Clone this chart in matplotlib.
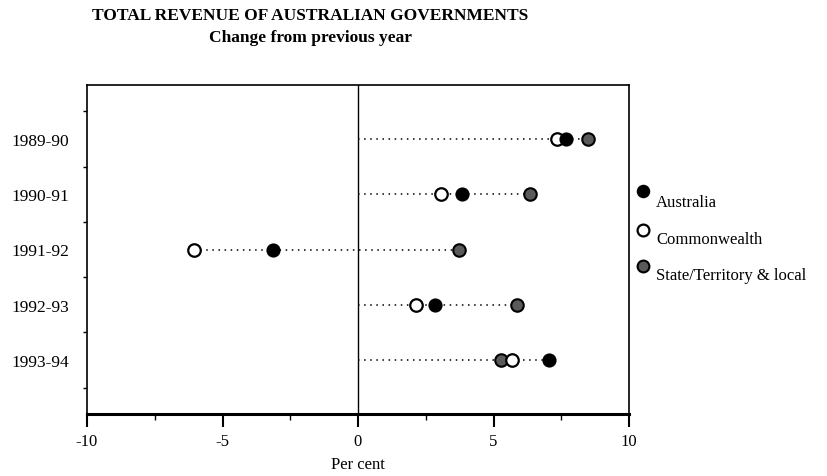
import matplotlib
matplotlib.use("Agg")
import matplotlib.pyplot as plt
from matplotlib.ticker import MultipleLocator, FixedLocator

years = ["1989-90", "1990-91", "1991-92", "1992-93", "1993-94"]
australia = [7.68, 3.84, -3.14, 2.84, 7.05]
commonwealth = [7.34, 3.06, -6.05, 2.14, 5.68]
state_local = [8.49, 6.35, 3.73, 5.87, 5.28]
series_names = ["Australia", "Commonwealth", "State/Territory & local"]

plt.rcParams["font.family"] = ["Liberation Serif", "DejaVu Serif"]

fig = plt.figure(figsize=(8.27, 4.77), dpi=100)
ax = fig.add_axes([87/827, 1-415/477, (629-87)/827, (415-86)/477])

ypos = list(range(len(years)))
for i in ypos:
    vals = [australia[i], commonwealth[i], state_local[i], 0]
    ax.plot([min(vals), max(vals)], [i, i], linestyle=(0, (1, 3)), color="black",
            lw=1.1, zorder=1)

ms = 9
ax.plot(state_local, ypos, "o", ms=ms, mfc="#5a5a5a", mec="black", mew=1.5, ls="none", zorder=3)
ax.plot(commonwealth, ypos, "o", ms=ms, mfc="white", mec="black", mew=1.6, ls="none", zorder=4)
ax.plot(australia, ypos, "o", ms=ms, mfc="black", mec="black", mew=1.2, ls="none", zorder=5)

ax.axvline(0, color="black", lw=1.0, zorder=2)

ax.set_xlim(-10, 10)
ax.set_ylim(4.98, -0.98)
ax.set_yticks(ypos)
ax.set_yticklabels(years)
ax.yaxis.set_minor_locator(FixedLocator([-0.5, 0.5, 1.5, 2.5, 3.5, 4.5]))
ax.xaxis.set_minor_locator(MultipleLocator(2.5))
ax.set_xticks([-10, -5, 0, 5, 10])
ax.set_xticklabels(["-10", "-5", "0", "5", "10"])

ax.tick_params(axis="x", which="major", direction="out", length=9, width=1.5,
               labelsize=12, pad=5, top=False)
ax.tick_params(axis="x", which="minor", direction="out", length=4, width=1.0)
ax.tick_params(axis="y", which="major", length=0, labelsize=12.5, pad=13)
ax.tick_params(axis="y", which="minor", direction="out", length=3, width=1.0)

for s in ["left", "right", "top"]:
    ax.spines[s].set_linewidth(1.2)
ax.spines["bottom"].set_linewidth(2.2)

ax.set_xlabel("Per cent", fontsize=12, labelpad=5)

fig.text(310/827, 1-16/477, "TOTAL REVENUE OF AUSTRALIAN GOVERNMENTS", ha="center",
         va="center", fontsize=12.5, fontweight="bold")
fig.text(310/827, 1-38/477, "Change from previous year", ha="center", va="center",
         fontsize=12.5, fontweight="bold")

# legend drawn manually outside the axes
leg_styles = [dict(mfc="black", mec="black", mew=1.2),
              dict(mfc="white", mec="black", mew=1.6),
              dict(mfc="#5a5a5a", mec="black", mew=1.5)]
marker_y = [192, 231, 267]
text_y = [203, 240, 276]
for name, st, my, ty in zip(series_names, leg_styles, marker_y, text_y):
    fig.lines.append(matplotlib.lines.Line2D([643/827], [1-my/477], marker="o", ms=8.5,
                                             ls="none", transform=fig.transFigure, **st))
    fig.text(656/827, 1-ty/477, name, ha="left", va="center", fontsize=12)

fig.savefig("out.png", dpi=100)
